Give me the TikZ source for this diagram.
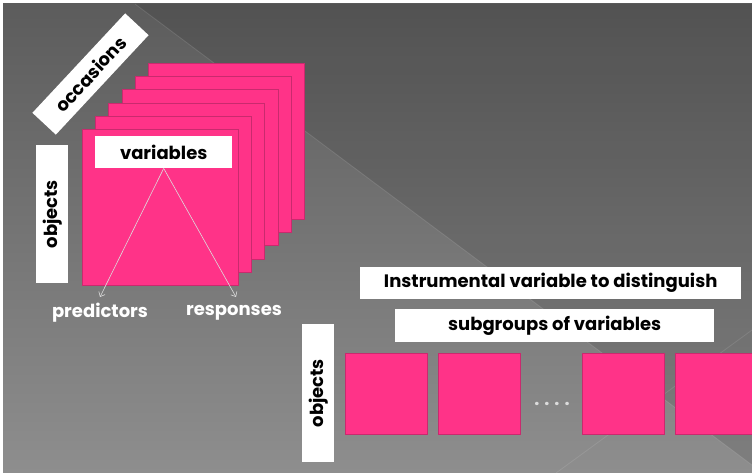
\documentclass[tikz,border=0pt]{standalone}
\usepackage{fontspec}
\setmainfont{Poppins}
\usetikzlibrary{arrows.meta}
\definecolor{pinkfill}{HTML}{FF3388}
\definecolor{pinkedge}{HTML}{C92A6E}
\definecolor{bgtop}{HTML}{5C5C5C}
\definecolor{bgbot}{HTML}{8E8E8E}
\definecolor{linkgray}{HTML}{DCDCDC}
\tikzset{
  page/.style={draw=pinkedge, line width=0.8pt, fill=pinkfill, anchor=north west,
    minimum width=156pt, minimum height=156pt, inner sep=0pt},
  tile/.style={draw=pinkedge, line width=0.8pt, fill=pinkfill, anchor=north west,
    minimum width=82pt, minimum height=81pt, inner sep=0pt},
  txt/.style={font=\bfseries\fontsize{18}{20}\selectfont},
  label/.style={fill=white, inner sep=0pt, txt, text=black},
  caption/.style={txt, text=white, inner sep=0pt},
  link/.style={draw=linkgray, line width=0.6pt, -{Straight Barb[length=4pt,width=7pt]}}
}
\begin{document}
\begin{tikzpicture}[x=1pt, y=-1pt]
  \useasboundingbox (0,0) rectangle (752,473);
  % slide background
  \fill[white] (0,0) rectangle (752,473);
  \shade[top color=bgtop, bottom color=bgbot] (3,4) rectangle (752,473);
  \fill[black, opacity=0.1] (135,4) -- (752,4) -- (752,465) -- cycle;
  \draw[white, opacity=0.12, line width=0.8pt] (135,4) -- (752,465);
  \draw[white, opacity=0.10, line width=0.8pt] (556,473) -- (752,330);

  % stack of occasions, back to front
  \foreach \i in {5,4,3,2,1} {
    \node[page] (occ\i) at (82+13.2*\i, 129-13.2*\i) {};
  }
  \node[page] (front) at (82,129) {};

  \node[label, minimum width=137pt, minimum height=32pt, anchor=north west] (vars) at (95,136) {variables};
  \node[fill=white, minimum width=32pt, minimum height=138pt, inner sep=0pt, anchor=north west] (objA) at (36,145) {};
  \node[txt, rotate=90, inner sep=0pt] (objAtext) at (objA.center) {objects};
  \node[label, minimum width=136pt, minimum height=32pt, rotate=47] (occ) at (90.5,74) {occasions};

  \coordinate (pend) at (100,297);
  \coordinate (rend) at (236,297);
  \draw[link] (vars.south) -- (pend);
  \draw[link] (vars.south) -- (rend);
  \node[caption] (pred) at (100,313) {predictors};
  \node[caption] (resp) at (234,313) {responses};

  % subgroups of variables
  \node[label, minimum width=381pt, minimum height=32pt, anchor=north west] (instr) at (360,267) {Instrumental variable to distinguish};
  \node[label, minimum width=319pt, minimum height=33pt, anchor=north west] (subg) at (395,309) {subgroups of variables};
  \node[fill=white, minimum width=32pt, minimum height=138pt, inner sep=0pt, anchor=north west] (objB) at (302,324) {};
  \node[txt, rotate=90, inner sep=0pt] (objBtext) at (objB.center) {objects};

  \node[tile] (t1) at (345,353) {};
  \node[tile] (t2) at (438,353) {};
  \node[tile] (t3) at (582,353) {};
  \node[tile] (t4) at (675,353) {};
  \node[text=linkgray, txt, inner sep=0pt] (dots) at (552,404) {.\hspace{5pt}.\hspace{5pt}.\hspace{5pt}.};
\end{tikzpicture}
\end{document}
